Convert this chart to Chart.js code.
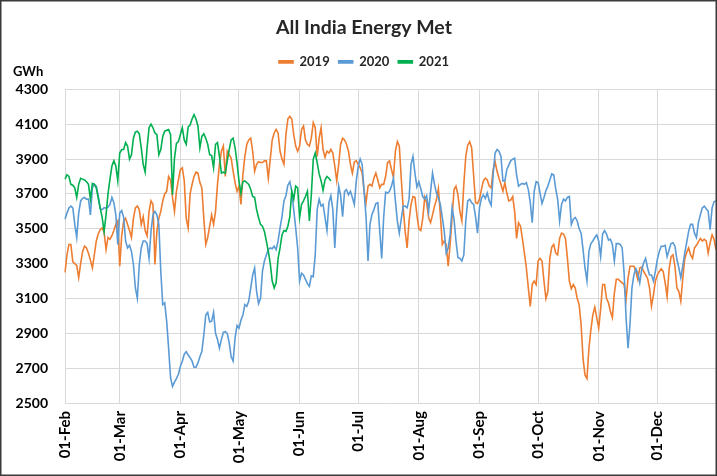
<!DOCTYPE html>
<html>
<head>
<meta charset="utf-8">
<title>All India Energy Met</title>
<script src="https://cdn.jsdelivr.net/npm/chart.js@4.4.1/dist/chart.umd.min.js"></script>
<style>
  html, body { margin: 0; padding: 0; background: #fff; }
  #wrap { width: 717px; height: 476px; }
</style>
</head>
<body>
<div id="wrap"><canvas id="energyChart" width="717" height="476"></canvas></div>
<script>
// =======================================================
// DADOS (GWh por dia, 01-Feb .. 31-Dec)
// =======================================================
const months = ['Feb', 'Mar', 'Apr', 'May', 'Jun', 'Jul', 'Aug', 'Sep', 'Oct', 'Nov', 'Dec'];
const monthDays = [28, 31, 30, 31, 30, 31, 31, 30, 31, 30, 31];
const seriesNames = ['2019', '2020', '2021'];
const yTicks = { min: 2500, max: 4300, step: 200 };

const energy2019 = [
  3250, 3350, 3410, 3410, 3310, 3300, 3290, 3220, 3300, 3370,
  3400, 3390, 3360, 3320, 3275, 3350, 3430, 3470, 3495, 3505,
  3480, 3380, 3450, 3440, 3460, 3490, 3525, 3545, 3285, 3460,
  3545, 3560, 3525, 3490, 3450, 3560, 3620, 3630, 3610, 3525,
  3570, 3490, 3460, 3600, 3660, 3640, 3295, 3485, 3560, 3600,
  3660, 3700, 3715, 3800, 3780, 3680, 3600, 3715, 3780, 3840,
  3850, 3775, 3560, 3505, 3700, 3755, 3800, 3825, 3820, 3765,
  3735, 3560, 3410, 3450, 3515, 3580, 3525, 3600, 3755, 3870,
  3945, 3975, 3800, 3945, 3925, 3905, 3830, 3765, 3715, 3745,
  3640, 3810, 3915, 3985, 4010, 4020, 3945, 3830, 3870, 3885,
  3880, 3880, 3890, 3890, 3790, 3900, 4010, 4050, 4070, 4050,
  3945, 3900, 3870, 4040, 4130, 4145, 4130, 4040, 3975, 3945,
  3975, 4070, 4090, 4010, 3985, 3975, 4020, 4110, 4080, 3915,
  4020, 4080, 3955, 3910, 3945, 3935, 3955, 3935, 3860, 3775,
  3870, 3985, 4020, 4010, 3985, 3945, 3870, 3820, 3885, 3890,
  3870, 3850, 3820, 3715, 3650, 3745, 3755, 3745, 3790, 3820,
  3780, 3735, 3755, 3755, 3800, 3880, 3890, 3840, 3795, 3945,
  4000, 3975, 3790, 3620, 3485, 3390, 3545, 3640, 3685, 3680,
  3580, 3500, 3490, 3560, 3680, 3650, 3565, 3535, 3580, 3630,
  3665, 3730, 3580, 3410, 3430, 3410, 3285, 3410, 3565, 3725,
  3745, 3695, 3600, 3545, 3755, 3915, 3980, 4000, 3965, 3810,
  3650, 3645, 3670, 3725, 3775, 3790, 3780, 3745, 3735, 3840,
  3885, 3830, 3790, 3755, 3715, 3765, 3705, 3660, 3665, 3685,
  3600, 3445, 3535, 3515, 3440, 3360, 3275, 3160, 3055, 3180,
  3200, 3180, 3315, 3330, 3315, 3200, 3100, 3140, 3330, 3395,
  3410, 3360, 3350, 3445, 3475, 3470, 3445, 3330, 3200, 3155,
  3180, 3160, 3100, 3065, 2950, 2755, 2660, 2640, 2815, 2920,
  3005, 3050, 2990, 2930, 3040, 3180, 3180, 3100, 3075, 3025,
  2990, 3130, 3210, 3210, 3200, 3190, 3180, 3095, 3215, 3285,
  3285, 3285, 3255, 3210, 3275, 3280, 3255, 3235, 3215, 3160,
  3055, 3120, 3200, 3235, 3255, 3270, 3255, 3190, 3110, 3265,
  3340, 3350, 3285, 3160, 3140, 3085, 3215, 3325, 3365, 3390,
  3350, 3330, 3390, 3405, 3425, 3445, 3430, 3440, 3430, 3360,
  3420, 3465, 3440, 3380
];

const energy2020 = [
  3555, 3590, 3620, 3630, 3620, 3525, 3450, 3590, 3660, 3675,
  3680, 3670, 3670, 3580, 3735, 3755, 3745, 3690, 3615, 3610,
  3620, 3620, 3625, 3640, 3680, 3650, 3580, 3410, 3590, 3605,
  3565, 3430, 3390, 3405, 3370, 3295, 3160, 3100, 3295, 3390,
  3430, 3430, 3415, 3330, 3485, 3580, 3600, 3580, 3525, 3255,
  3065, 3075, 2970, 2815, 2645, 2595, 2620, 2640, 2665, 2710,
  2740, 2780, 2795, 2775, 2760, 2740, 2705, 2705, 2730, 2765,
  2795, 2890, 3005, 3020, 2965, 2970, 3020, 2900, 2865, 2815,
  2865, 2905, 2910, 2900, 2845, 2765, 2740, 2875, 2945, 2930,
  2975, 3005, 3065, 3055, 3085, 3160, 3235, 3275, 3140, 3070,
  3100, 3255, 3315, 3350, 3380, 3390, 3385, 3400, 3380, 3430,
  3505, 3570, 3660, 3690, 3750, 3770, 3715, 3610, 3505, 3390,
  3200, 3245, 3235, 3210, 3185, 3170, 3230, 3225, 3350, 3610,
  3670, 3630, 3640, 3565, 3490, 3650, 3690, 3610, 3390, 3600,
  3745, 3690, 3570, 3715, 3725, 3695, 3715, 3680, 3640, 3775,
  3860, 3900, 3870, 3715, 3565, 3315, 3525, 3580, 3610, 3645,
  3650, 3485, 3330, 3565, 3710, 3705, 3715, 3745, 3790, 3660,
  3545, 3475, 3555, 3630, 3630, 3620, 3670, 3870, 3915, 3820,
  3740, 3770, 3730, 3685, 3670, 3690, 3600, 3715, 3820, 3755,
  3705, 3680, 3640, 3565, 3485, 3360, 3390, 3465, 3620, 3555,
  3430, 3335, 3330, 3315, 3350, 3545, 3660, 3670, 3650, 3640,
  3570, 3475, 3620, 3675, 3695, 3675, 3705, 3660, 3635, 3810,
  3935, 3955, 3945, 3915, 3775, 3775, 3840, 3865, 3890, 3900,
  3905, 3810, 3745, 3755, 3760, 3755, 3765, 3725, 3650, 3535,
  3715, 3770, 3765, 3705, 3645, 3680, 3720, 3745, 3780, 3815,
  3810, 3730, 3670, 3545, 3640, 3670, 3660, 3680, 3685, 3525,
  3555, 3565, 3545, 3500, 3475, 3380, 3275, 3200, 3370, 3415,
  3430, 3450, 3465, 3430, 3340, 3470, 3490, 3470, 3435, 3440,
  3410, 3315, 3415, 3415, 3410, 3390, 3245, 2990, 2815, 2950,
  3160, 3235, 3270, 3245, 3190, 3265, 3305, 3330, 3275, 3235,
  3235, 3200, 3255, 3325, 3370, 3400, 3400, 3405, 3340, 3380,
  3415, 3420, 3400, 3325, 3275, 3220, 3285, 3360, 3420, 3485,
  3525, 3525, 3475, 3450, 3535, 3580, 3620, 3630, 3615, 3600,
  3495, 3620, 3655, 3660
];

const energy2021 = [
  3785, 3810, 3800, 3755, 3750, 3735, 3680, 3755, 3790, 3785,
  3780, 3770, 3755, 3670, 3760, 3755, 3735, 3675, 3620, 3565,
  3485, 3580, 3700, 3785, 3860, 3890, 3860, 3775, 3935, 3955,
  3955, 3995, 3975, 3900, 3925, 4020, 4055, 4060, 4045, 3965,
  3870, 3825, 3965, 4080, 4100, 4080, 4050, 4040, 3925, 3955,
  4030, 4060, 4065, 4070, 4040, 3695, 3905, 3990, 4000, 4040,
  4080, 4010, 3985, 4085, 4095, 4130, 4155, 4130, 4090, 3965,
  4030, 4045, 4020, 3985, 3925, 3920, 3850, 3985, 3995, 3915,
  3820, 3825, 3820, 3890, 3955, 4010, 4020, 3965, 3880, 3775,
  3705, 3770, 3775, 3765, 3755, 3725, 3685, 3680, 3610, 3565,
  3525, 3515, 3485, 3430, 3370, 3300, 3200, 3160, 3190, 3330,
  3390, 3465, 3490, 3485, 3515, 3570, 3715, 3670, 3745, 3735,
  3565, 3640, 3660, 3685, 3715, 3545, 3695, 3900, 3935, 3880,
  3815, 3775, 3720, 3780, 3800, 3790, 3775
];

// monta os rótulos diários "01-Feb", "02-Feb", ...
const dayLabels = [];
months.forEach((m, i) => {
  for (let d = 1; d <= monthDays[i]; d++) {
    dayLabels.push(String(d).padStart(2, '0') + '-' + m);
  }
});

const FONT = "Lato, 'Liberation Sans', sans-serif";
const GRID = '#d9d9d9';

// rótulo "GWh" e moldura externa
const extrasPlugin = {
  id: 'extras',
  afterDraw(chart) {
    const ctx = chart.ctx;
    ctx.save();
    ctx.fillStyle = '#000';
    ctx.font = 'bold 13px ' + FONT;
    ctx.textAlign = 'left';
    ctx.textBaseline = 'middle';
    ctx.fillText('GWh', 13, 72);
    ctx.strokeStyle = '#3a3a3a';
    ctx.lineWidth = 1.5;
    ctx.strokeRect(0.75, 0.75, chart.width - 1.5, chart.height - 1.5);
    ctx.restore();
  }
};

// espaço extra abaixo da legenda
const legendGapPlugin = {
  id: 'legendGap',
  beforeInit(chart) {
    const origFit = chart.legend.fit;
    chart.legend.fit = function () {
      origFit.bind(chart.legend)();
      this.height += 11;
    };
  }
};

const ctx = document.getElementById('energyChart');
ctx.chart = new Chart(ctx, {
  type: 'line',
  data: {
    labels: dayLabels,
    datasets: [
      { label: seriesNames[0], data: energy2019, borderColor: '#ED7D31', backgroundColor: '#ED7D31', order: 2 },
      { label: seriesNames[1], data: energy2020, borderColor: '#5B9BD5', backgroundColor: '#5B9BD5', order: 1 },
      { label: seriesNames[2], data: energy2021, borderColor: '#00B050', backgroundColor: '#00B050', order: 0 }
    ]
  },
  options: {
    responsive: false,
    animation: false,
    elements: {
      line: { borderWidth: 1.6, tension: 0, fill: false },
      point: { radius: 0, hoverRadius: 0 }
    },
    layout: { padding: { left: 12, right: 1, top: 0, bottom: 4 } },
    plugins: {
      title: {
        display: true,
        text: 'All India Energy Met',
        color: '#262626',
        font: { family: FONT, size: 19.5, weight: 'bold' },
        padding: { top: 16, bottom: 7 }
      },
      legend: {
        display: true,
        position: 'top',
        labels: {
          color: '#262626',
          font: { family: FONT, size: 13, weight: 'bold' },
          boxWidth: 14,
          boxHeight: 2,
          padding: 9,
          sort: (a, b) => a.datasetIndex - b.datasetIndex
        }
      },
      tooltip: { enabled: false }
    },
    scales: {
      x: {
        type: 'category',
        offset: false,
        grid: { color: GRID, lineWidth: 1, drawTicks: false },
        border: { display: false },
        ticks: {
          autoSkip: false,
          maxRotation: 90,
          minRotation: 90,
          padding: 8,
          color: '#000',
          font: { family: FONT, size: 15, weight: 'bold' },
          callback: function (value) {
            const lbl = this.getLabelForValue(value);
            return lbl.startsWith('01-') ? lbl : null;
          }
        },
        afterFit(scale) { scale.height = 69; }
      },
      y: {
        min: yTicks.min,
        max: yTicks.max,
        grid: { color: GRID, lineWidth: 1, drawTicks: false },
        border: { display: false },
        ticks: {
          stepSize: yTicks.step,
          padding: 17,
          color: '#000',
          font: { family: FONT, size: 14, weight: 'bold' },
          callback: (value) => String(value)
        },
        afterFit(scale) { scale.width = 53; }
      }
    }
  },
  plugins: [extrasPlugin, legendGapPlugin]
});
</script>
</body>
</html>
